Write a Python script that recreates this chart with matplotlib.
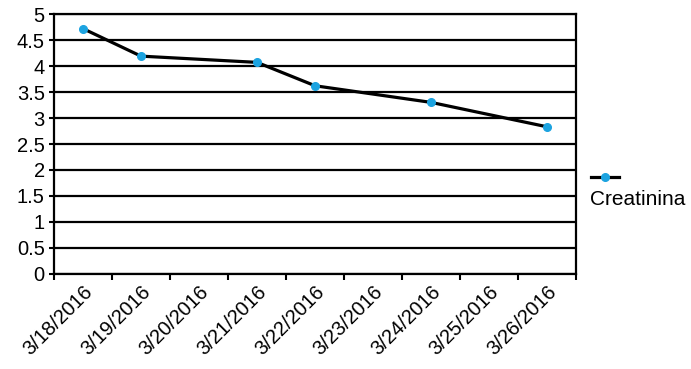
"""
Creatinina over time, line chart with category date axis.
"""

import matplotlib.pyplot as plt
from matplotlib.lines import Line2D
from matplotlib.ticker import FixedLocator, MultipleLocator

plt.rcParams["font.family"] = ["Liberation Sans", "DejaVu Sans"]

# Data
dates = [
    "3/18/2016", "3/19/2016", "3/20/2016", "3/21/2016", "3/22/2016",
    "3/23/2016", "3/24/2016", "3/25/2016", "3/26/2016",
]
creatinina = [4.72, 4.19, None, 4.07, 3.62, None, 3.30, None, 2.83]

line_color = "black"
marker_color = "#1ca3e0"

fig = plt.figure(figsize=(6.91, 3.69), dpi=100)
ax = fig.add_axes([0.078, 0.2575, 0.756, 0.7045])

# only the days with a measurement, line connects across the gaps
xs = [i for i, v in enumerate(creatinina) if v is not None]
ys = [v for v in creatinina if v is not None]
ax.plot(xs, ys, color=line_color, linewidth=2.3, marker="o",
        markersize=5.5, markerfacecolor=marker_color,
        markeredgecolor=marker_color, zorder=3)

ax.set_xlim(-0.5, len(dates) - 0.5)
ax.set_ylim(0, 5)

# y axis
ax.yaxis.set_major_locator(MultipleLocator(0.5))
ax.set_yticklabels([f"{t:g}" for t in ax.get_yticks()])
ax.yaxis.grid(True, color="black", linewidth=1.6)
ax.tick_params(axis="y", direction="out", length=3.5, width=1.5,
               labelsize=14.5, pad=3)

# x axis: labels at category centers, tick marks between categories
ax.set_xticks(range(len(dates)))
ax.set_xticklabels(dates, rotation=45, ha="right", rotation_mode="anchor")
ax.xaxis.set_minor_locator(FixedLocator([i - 0.5 for i in range(len(dates) + 1)]))
ax.tick_params(axis="x", which="major", length=0, labelsize=14.5, pad=6)
ax.tick_params(axis="x", which="minor", direction="out", length=4, width=1.5)

for side in ["left", "right", "top", "bottom"]:
    ax.spines[side].set_linewidth(1.6)
    ax.spines[side].set_color("black")

# legend: marker line on top, name below
handle = Line2D([], [], color=line_color, linewidth=2.3, marker="o",
                markersize=5.5, markerfacecolor=marker_color,
                markeredgecolor=marker_color)
fig.legend(handles=[handle], labels=[""], loc="center left",
           bbox_to_anchor=(0.845, 0.517), frameon=False,
           handlelength=2.0, borderpad=0, handletextpad=0)
fig.text(0.854, 0.458, "Creatinina", fontsize=15, va="center", ha="left")

plt.savefig("out.png", dpi=100)
